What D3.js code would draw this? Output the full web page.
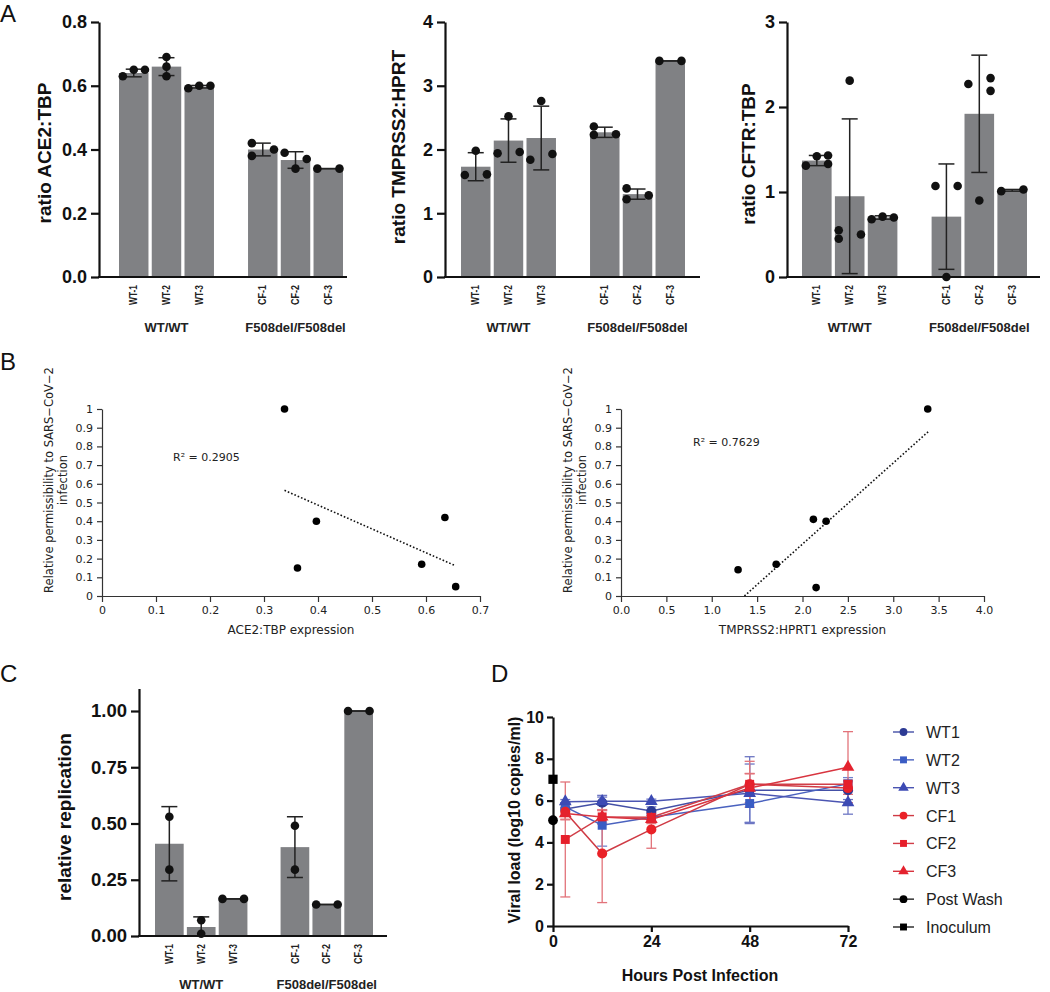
<!DOCTYPE html>
<html><head><meta charset="utf-8">
<script src="https://cdn.jsdelivr.net/npm/d3@7"></script>
<style>body{margin:0;background:#fff} svg{display:block}</style>
</head><body>
<svg id="fig" width="1050" height="992"></svg>
<script>
// ---------------- DATA ----------------
const samples = ["WT-1","WT-2","WT-3","CF-1","CF-2","CF-3"];
const groups = ["WT/WT","F508del/F508del"];
const groupOfSample = [0,0,0,1,1,1];

// Panel A1: ACE2:TBP
const ace2Mean = [0.64, 0.66, 0.597, 0.40, 0.367, 0.34];
const ace2Sd   = [0.012, 0.028, 0.004, 0.02, 0.026, 0.0];
const ace2Dots = [
  {L:[0.63], C:[0.65], R:[0.65]},
  {L:[], C:[0.69,0.66,0.63], R:[]},
  {L:[0.592], C:[0.60], R:[0.60]},
  {L:[0.42,0.38], C:[], R:[0.40]},
  {L:[0.39], C:[0.34], R:[0.37]},
  {L:[0.34], C:[], R:[0.34]}
];
const ace2Ticks = [0, 0.2, 0.4, 0.6, 0.8];

// Panel A2: TMPRSS2:HPRT
const tmprssMean = [1.73, 2.14, 2.18, 2.27, 1.30, 3.39];
const tmprssSd   = [0.22, 0.34, 0.50, 0.08, 0.08, 0.0];
const tmprssDots = [
  {L:[1.60], C:[1.98], R:[1.61]},
  {L:[1.94], C:[2.52], R:[1.96]},
  {L:[1.84], C:[2.76], R:[1.93]},
  {L:[2.36,2.23], C:[], R:[2.24]},
  {L:[1.39,1.22], C:[], R:[1.28]},
  {L:[3.39], C:[], R:[3.39]}
];
const tmprssTicks = [0, 1, 2, 3, 4];

// Panel A3: CFTR:TBP
const cftrMean = [1.37, 0.95, 0.70, 0.71, 1.92, 1.02];
const cftrSd   = [0.06, 0.91, 0.02, 0.62, 0.69, 0.01];
const cftrDots = [
  {L:[1.31], C:[1.42], R:[1.43,1.33]},
  {L:[0.55,0.45], C:[2.31], R:[0.50]},
  {L:[0.68], C:[0.71], R:[0.70]},
  {L:[1.07], C:[0.0], R:[1.07]},
  {L:[2.27], C:[0.90], R:[2.34,2.19]},
  {L:[1.01], C:[], R:[1.03]}
];
const cftrTicks = [0, 1, 2, 3];

// Panel C: relative replication
const replMean = [0.41, 0.04, 0.165, 0.395, 0.14, 1.0];
const replSd   = [0.165, 0.045, 0.0, 0.135, 0.0, 0.0];
const replDots = [
  {L:[], C:[0.53,0.295], R:[]},
  {L:[], C:[0.07,0.01], R:[]},
  {L:[0.165], C:[], R:[0.165]},
  {L:[], C:[0.49,0.295], R:[]},
  {L:[0.14], C:[], R:[0.14]},
  {L:[1.0], C:[], R:[1.0]}
];
const replTicks = [0, 0.25, 0.5, 0.75, 1.0];

// Panel B: scatter
const permissibility = [1.0, 0.40, 0.15, 0.17, 0.42, 0.05];
const ace2Expr       = [0.338, 0.397, 0.362, 0.592, 0.635, 0.655];
const ace2Trend      = [[0.338, 0.565], [0.652, 0.165]];
const ace2R2 = "R\u00B2 = 0.2905";
const ace2XTicks = [0, 0.1, 0.2, 0.3, 0.4, 0.5, 0.6, 0.7];

const permissibility2 = [0.14, 0.17, 0.41, 0.40, 0.045, 1.0];
const tmprssExpr      = [1.29, 1.71, 2.12, 2.26, 2.15, 3.38];
const tmprssTrend     = [[1.36, 0.0], [3.40, 0.885]];
const tmprssR2 = "R\u00B2 = 0.7629";
const tmprssXTicks = [0, 0.5, 1.0, 1.5, 2.0, 2.5, 3.0, 3.5, 4.0];
const permTicks = [0, 0.1, 0.2, 0.3, 0.4, 0.5, 0.6, 0.7, 0.8, 0.9, 1];

// Panel D: viral load time course
const hours = [3, 12, 24, 48, 72];
const hourTicks = [0, 24, 48, 72];
const loadTicks = [0, 2, 4, 6, 8, 10];
const seriesNames = ["WT1","WT2","WT3","CF1","CF2","CF3"];
const wt1Load = [5.60, 5.90, 5.50, 6.50, 6.50];
const wt1Sd   = [0.30, 0.35, 0.20, 1.60, 0.45];
const wt2Load = [5.70, 4.82, 5.20, 5.86, 6.80];
const wt2Sd   = [0.20, 1.00, 0.20, 0.90, 0.30];
const wt3Load = [5.95, 5.97, 5.97, 6.35, 5.90];
const wt3Sd   = [0.10, 0.20, 0.10, 1.40, 0.55];
const cf1Load = [5.46, 3.47, 4.62, 6.78, 6.60];
const cf1Sd   = [0.35, 2.35, 0.90, 0.50, 0.30];
const cf2Load = [4.14, 5.22, 5.20, 6.78, 6.78];
const cf2Sd   = [2.75, 0.35, 0.20, 1.10, 0.20];
const cf3Load = [5.38, 5.22, 5.10, 6.60, 7.60];
const cf3Sd   = [0.30, 0.30, 0.20, 0.70, 1.70];
const postWashLoad = 5.06;
const inoculumLoad = 7.02;
const legendNames = ["WT1","WT2","WT3","CF1","CF2","CF3","Post Wash","Inoculum"];

// ---------------- DRAW ----------------
const svg = d3.select("#fig");
svg.append("rect").attr("width",1050).attr("height",992).attr("fill","#fff");
const ARIAL = "'Liberation Sans', Arial, Helvetica, sans-serif";
const LUCIDA = "'DejaVu Sans', Verdana, sans-serif";
const BAR = "#808184";

function panelLetter(t, x, y){
  svg.append("text").attr("x",x).attr("y",y).text(t)
    .attr("font-family",ARIAL).attr("font-size",24).attr("fill","#111");
}
panelLetter("A", 0, 22);
panelLetter("B", 0, 370);
panelLetter("C", 0, 682);
panelLetter("D", 491, 682);

function barPanel(o){
  const g = svg.append("g");
  const y = d3.scaleLinear().domain([0, o.yMax]).range([o.yBottom, o.yTop]);
  const gx = d3.scaleBand().domain(groups).range([o.barStart, o.barEnd]).paddingInner(0.264).paddingOuter(0);
  const ix = d3.scaleBand().domain([0,1,2]).range([0, gx.bandwidth()]).paddingInner(0.1);
  const bw = ix.bandwidth();
  const cx = i => gx(groups[groupOfSample[i]]) + ix(i % 3) + bw/2;
  const slotOff = {L:-0.37*bw, C:0, R:0.38*bw};

  g.selectAll("rect.bar").data(o.mean).join("rect")
    .attr("x",(d,i)=>cx(i)-bw/2).attr("width",bw)
    .attr("y",d=>y(d)).attr("height",d=>y(0)-y(d)).attr("fill",BAR);

  const eb = g.append("g").attr("stroke","#222").attr("stroke-width",1.5);
  o.mean.forEach((m,i)=>{
    const c = cx(i), s = o.sd[i];
    eb.append("line").attr("x1",c).attr("x2",c).attr("y1",y(m+s)).attr("y2",y(Math.max(0,m-s)));
    [m+s, Math.max(0,m-s)].forEach(v=>{
      eb.append("line").attr("x1",c-8).attr("x2",c+8).attr("y1",y(v)).attr("y2",y(v));
    });
  });

  const dots = [];
  o.dots.forEach((d,i)=>{
    ["L","C","R"].forEach(k=> d[k].forEach(v=> dots.push({x:cx(i)+slotOff[k], v})));
  });
  g.selectAll("circle.dot").data(dots).join("circle")
    .attr("cx",d=>d.x).attr("cy",d=>y(d.v)).attr("r",4.3).attr("fill","#111");

  const ax = g.append("g").attr("transform",`translate(${o.axisX},0)`)
    .call(d3.axisLeft(y).tickValues(o.ticks).tickFormat(o.fmt).tickSize(8).tickSizeOuter(0).tickPadding(4));
  ax.select(".domain").attr("stroke","#111").attr("stroke-width",2.2);
  ax.selectAll(".tick line").attr("stroke","#111").attr("stroke-width",2.2);
  ax.selectAll(".tick text").attr("font-family",ARIAL).attr("font-weight","bold")
    .attr("font-size",o.tickFont).attr("fill","#111");

  g.append("line").attr("x1",o.axisX-1).attr("x2",o.axisEnd).attr("y1",y(0)).attr("y2",y(0))
    .attr("stroke","#111").attr("stroke-width",2.2);

  g.selectAll("text.samp").data(samples).join("text")
    .attr("transform",(d,i)=>`translate(${cx(i)},${o.yBottom+8}) rotate(-90)`)
    .attr("text-anchor","end").attr("dy","0.36em")
    .attr("font-family",ARIAL).attr("font-weight","bold").attr("font-size",10).attr("fill","#222")
    .attr("textLength",20).attr("lengthAdjust","spacingAndGlyphs")
    .text(d=>d);

  g.selectAll("text.grp").data(groups).join("text")
    .attr("x",d=>gx(d)+gx.bandwidth()/2).attr("y",o.groupY)
    .attr("text-anchor","middle").attr("font-family",ARIAL).attr("font-weight","bold")
    .attr("font-size",13).attr("fill","#222").text(d=>d);

  g.append("text").attr("transform",`translate(${o.labelX},${o.labelY}) rotate(-90)`)
    .attr("text-anchor","middle").attr("font-family",ARIAL).attr("font-weight","bold")
    .attr("font-size",19).attr("fill","#111").text(o.label);
}

barPanel({mean:ace2Mean, sd:ace2Sd, dots:ace2Dots, ticks:ace2Ticks, fmt:d3.format(".1f"), yMax:0.8,
  yTop:22, yBottom:277, axisX:99, axisEnd:347, barStart:119, barEnd:343, groupY:332,
  label:"ratio ACE2:TBP", labelX:51, labelY:153, tickFont:18});
barPanel({mean:tmprssMean, sd:tmprssSd, dots:tmprssDots, ticks:tmprssTicks, fmt:d3.format("d"), yMax:4,
  yTop:22, yBottom:277, axisX:445, axisEnd:700, barStart:461, barEnd:685, groupY:332,
  label:"ratio TMPRSS2:HPRT", labelX:405, labelY:147, tickFont:18});
barPanel({mean:cftrMean, sd:cftrSd, dots:cftrDots, ticks:cftrTicks, fmt:d3.format("d"), yMax:3,
  yTop:22, yBottom:277, axisX:787, axisEnd:1040, barStart:802, barEnd:1027, groupY:332,
  label:"ratio CFTR:TBP", labelX:755, labelY:154, tickFont:18});
barPanel({mean:replMean, sd:replSd, dots:replDots, ticks:replTicks, fmt:d3.format(".2f"), yMax:1.1,
  yTop:688.5, yBottom:936, axisX:139, axisEnd:387, barStart:155, barEnd:373, groupY:989,
  label:"relative replication", labelX:71, labelY:817, tickFont:18.5});

function scatterPanel(o){
  const g = svg.append("g");
  const x = d3.scaleLinear().domain(o.xDomain).range([o.x0, o.x1]);
  const y = d3.scaleLinear().domain([0,1]).range([596, 409]);
  const ya = g.append("g").attr("transform",`translate(${o.x0},0)`)
    .call(d3.axisLeft(y).tickValues(permTicks).tickFormat(d3.format("~g")).tickSize(5).tickSizeOuter(0).tickPadding(4));
  const xa = g.append("g").attr("transform",`translate(0,596)`)
    .call(d3.axisBottom(x).tickValues(o.xTicks).tickFormat(o.xFmt).tickSize(6).tickSizeOuter(0).tickPadding(4));
  [ya, xa].forEach(a=>{
    a.select(".domain").attr("stroke","#333").attr("stroke-width",1.2);
    a.selectAll(".tick line").attr("stroke","#333").attr("stroke-width",1.2);
    a.selectAll(".tick text").attr("font-family",LUCIDA).attr("font-size",11).attr("fill","#222");
  });
  g.append("line").attr("x1",x(o.trend[0][0])).attr("y1",y(o.trend[0][1]))
    .attr("x2",x(o.trend[1][0])).attr("y2",y(o.trend[1][1]))
    .attr("stroke","#111").attr("stroke-width",1.6).attr("stroke-dasharray","1.6,2");
  g.selectAll("circle").data(o.xs).join("circle")
    .attr("cx",d=>x(d)).attr("cy",(d,i)=>y(o.ys[i])).attr("r",3.8).attr("fill","#000");
  g.append("text").attr("x",o.r2X).attr("y",o.r2Y).attr("font-family",LUCIDA).attr("font-size",11)
    .attr("fill","#222").text(o.r2);
  g.append("text").attr("x",(o.x0+o.x1)/2).attr("y",634).attr("text-anchor","middle")
    .attr("font-family",LUCIDA).attr("font-size",12).attr("fill","#222").text(o.xLabel);
  const yl = g.append("text").attr("transform",`translate(${o.x0-49},480) rotate(-90)`)
    .attr("text-anchor","middle").attr("font-family",LUCIDA).attr("font-size",11.5).attr("fill","#222");
  yl.append("tspan").attr("x",0).attr("dy",0).text("Relative permissibility to SARS\u2212CoV\u22122");
  yl.append("tspan").attr("x",0).attr("dy",14).text("infection");
}
scatterPanel({xDomain:[0,0.7], x0:102, x1:480, xTicks:ace2XTicks, xFmt:d3.format("~g"),
  xs:ace2Expr, ys:permissibility, trend:ace2Trend, r2:ace2R2, r2X:173, r2Y:461, xLabel:"ACE2:TBP expression"});
scatterPanel({xDomain:[0,4], x0:621, x1:984, xTicks:tmprssXTicks, xFmt:d3.format(".1f"),
  xs:tmprssExpr, ys:permissibility2, trend:tmprssTrend, r2:tmprssR2, r2X:693, r2Y:446, xLabel:"TMPRSS2:HPRT1 expression"});

// Panel D
(function(){
  const g = svg.append("g");
  const x = d3.scaleLinear().domain([0,72]).range([553, 848]);
  const y = d3.scaleLinear().domain([0,10]).range([926, 717]);
  const loads = [wt1Load, wt2Load, wt3Load, cf1Load, cf2Load, cf3Load];
  const sds = [wt1Sd, wt2Sd, wt3Sd, cf1Sd, cf2Sd, cf3Sd];
  const colors = ["#2c3a94","#3a5cc4","#3c4ab4","#ea2127","#e61e2a","#e4222e"];
  const lineColors = ["#4450a6","#4a62bf","#4b55b2","#cf3a44","#d13e48","#d8343f"];
  const errColors = ["#6c75c2","#6f83cf","#6e77c4","#e2737a","#e2737a","#e2737a"];
  const shapes = [d3.symbolCircle, d3.symbolSquare, d3.symbolTriangle, d3.symbolCircle, d3.symbolSquare, d3.symbolTriangle];
  const sizes = [80, 80, 70, 80, 80, 70];

  loads.forEach((ser,si)=>{
    const eg = g.append("g").attr("stroke",errColors[si]).attr("stroke-width",1.3);
    ser.forEach((v,i)=>{
      const cx = x(hours[i]), s = sds[si][i];
      eg.append("line").attr("x1",cx).attr("x2",cx).attr("y1",y(v+s)).attr("y2",y(v-s));
      [v+s, v-s].forEach(e=> eg.append("line").attr("x1",cx-5).attr("x2",cx+5).attr("y1",y(e)).attr("y2",y(e)));
    });
  });
  const line = d3.line().x((d,i)=>x(hours[i])).y(d=>y(d));
  loads.forEach((ser,si)=>{
    g.append("path").attr("d",line(ser)).attr("fill","none").attr("stroke",lineColors[si]).attr("stroke-width",1.5);
  });
  loads.forEach((ser,si)=>{
    g.selectAll(null).data(ser).join("path")
      .attr("transform",(d,i)=>`translate(${x(hours[i])},${y(d)})`)
      .attr("d", d3.symbol().type(shapes[si]).size(sizes[si])()).attr("fill",colors[si]);
  });

  const ya = g.append("g").attr("transform",`translate(553,0)`)
    .call(d3.axisLeft(y).tickValues(loadTicks).tickSize(6).tickSizeOuter(0).tickPadding(3));
  const xa = g.append("g").attr("transform",`translate(0,926)`)
    .call(d3.axisBottom(x).tickValues(hourTicks).tickSize(6).tickSizeOuter(0).tickPadding(4));
  [ya, xa].forEach(a=>{
    a.select(".domain").attr("stroke","#111").attr("stroke-width",2.2);
    a.selectAll(".tick line").attr("stroke","#111").attr("stroke-width",2.2);
    a.selectAll(".tick text").attr("font-family",ARIAL).attr("font-weight","bold").attr("font-size",16).attr("fill","#111");
  });
  g.append("path").attr("transform",`translate(${x(0)},${y(postWashLoad)})`)
    .attr("d",d3.symbol().type(d3.symbolCircle).size(75)()).attr("fill","#000");
  g.append("path").attr("transform",`translate(${x(0)},${y(inoculumLoad)})`)
    .attr("d",d3.symbol().type(d3.symbolSquare).size(85)()).attr("fill","#000");

  g.append("text").attr("x",700).attr("y",981).attr("text-anchor","middle")
    .attr("font-family",ARIAL).attr("font-weight","bold").attr("font-size",16).attr("fill","#111")
    .text("Hours Post Infection");
  g.append("text").attr("transform",`translate(520,820) rotate(-90)`).attr("text-anchor","middle")
    .attr("font-family",ARIAL).attr("font-weight","bold").attr("font-size",16).attr("fill","#111")
    .text("Viral load (log10 copies/ml)");

  const legColors = colors.concat(["#000","#000"]);
  const legLine = lineColors.concat(["#222","#222"]);
  const legShapes = shapes.concat([d3.symbolCircle, d3.symbolSquare]);
  const ly = d3.scalePoint().domain(legendNames).range([732, 927]);
  const lg = g.append("g");
  legendNames.forEach((n,i)=>{
    const yy = ly(n);
    lg.append("line").attr("x1",893).attr("x2",914).attr("y1",yy).attr("y2",yy).attr("stroke",legLine[i]).attr("stroke-width",1.4);
    lg.append("path").attr("transform",`translate(903.5,${yy})`)
      .attr("d",d3.symbol().type(legShapes[i]).size(48)()).attr("fill",legColors[i]);
    lg.append("text").attr("x",926).attr("y",yy+6).attr("font-family",ARIAL).attr("font-size",16)
      .attr("fill","#222").text(n);
  });
})();
</script>
</body></html>
